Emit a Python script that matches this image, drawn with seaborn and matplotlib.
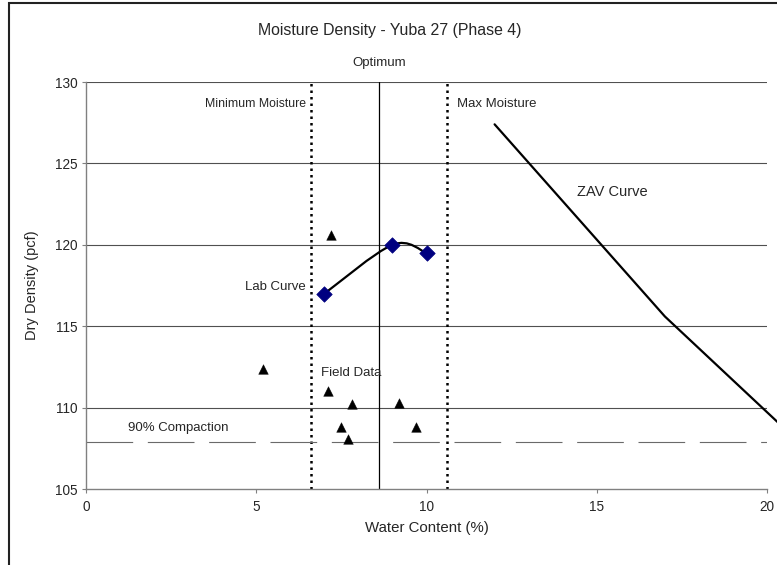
import matplotlib
matplotlib.use("Agg")
import matplotlib.pyplot as plt
import seaborn as sns
import pandas as pd
import numpy as np
from matplotlib.path import Path
from matplotlib.patches import PathPatch, Rectangle
from matplotlib import font_manager

# ---- data ----
lab_water = [7.0, 9.0, 10.0]
lab_density = [117.0, 120.0, 119.5]

field_water = [7.2, 5.2, 7.1, 7.8, 9.2, 7.5, 9.7, 7.7]
field_density = [120.6, 112.4, 111.0, 110.2, 110.3, 108.8, 108.8, 108.05]

zav_water = [12.0, 17.0, 22.0]
zav_density = [127.4, 115.6, 105.8]

optimum_water = 8.6
min_moisture = 6.6
max_moisture = 10.6
compaction_90 = 107.9

x_ticks = [0, 5, 10, 15, 20]
y_ticks = [105, 110, 115, 120, 125, 130]

title = "Moisture Density - Yuba 27 (Phase 4)"
x_label = "Water Content (%)"
y_label = "Dry Density (pcf)"

# ---- style ----
sns.set_style("white")
plt.rcParams['font.family'] = ['Liberation Sans', 'DejaVu Sans']

names = {f.name for f in font_manager.fontManager.ttflist}
narrow = 'Liberation Sans Narrow' if 'Liberation Sans Narrow' in names else None

W, H = 777, 565
fig = plt.figure(figsize=(W / 100, H / 100), dpi=100)
ax = fig.add_axes([86 / W, (H - 489) / H, (767 - 86) / W, (489 - 82) / H])

ax.set_xlim(0, 20)
ax.set_ylim(105, 130)
ax.set_xticks(x_ticks)
ax.set_yticks(y_ticks)
ax.tick_params(axis='both', direction='out', length=3, width=0.8, color='#808080',
               labelsize=9.8, pad=3, bottom=True, left=True)
ax.tick_params(axis='x', pad=5)
for s in ['top', 'right']:
    ax.spines[s].set_visible(False)
for s in ['left', 'bottom']:
    ax.spines[s].set_color('#808080')
    ax.spines[s].set_linewidth(1.0)

# horizontal gridlines
for yv in y_ticks[1:]:
    ax.axhline(yv, color='#505050', lw=0.8, zorder=1)

# vertical reference lines
ax.axvline(min_moisture, color='black', lw=1.8, ls=(0, (1, 1.6)), zorder=2)
ax.axvline(max_moisture, color='black', lw=1.8, ls=(0, (1, 1.6)), zorder=2)
ax.axvline(optimum_water, color='black', lw=0.9, zorder=2)

# 90% compaction
ax.axhline(compaction_90, color='#6a6a6a', lw=0.8, ls=(0, (42.0, 13.2)), zorder=2)

# ZAV curve
zav_df = pd.DataFrame({"w": zav_water, "d": zav_density})
sns.lineplot(data=zav_df, x="w", y="d", ax=ax, color='black', lw=1.6,
             sort=False, estimator=None, clip_on=False, zorder=3)

# Lab curve (smoothed Bezier through the lab points)
pts = np.column_stack([lab_water, lab_density])
n = len(pts)
verts = [tuple(pts[0])]
codes = [Path.MOVETO]
for i in range(n - 1):
    p0 = pts[max(i - 1, 0)]
    p1 = pts[i]
    p2 = pts[i + 1]
    p3 = pts[min(i + 2, n - 1)]
    c1 = p1 + (p2 - p0) / 6.0
    c2 = p2 - (p3 - p1) / 6.0
    verts += [tuple(c1), tuple(c2), tuple(p2)]
    codes += [Path.CURVE4] * 3
ax.add_patch(PathPatch(Path(verts, codes), fill=False, ec='black', lw=1.6, zorder=4))

lab_df = pd.DataFrame({"w": lab_water, "d": lab_density})
sns.scatterplot(data=lab_df, x="w", y="d", ax=ax, marker='D', s=62,
                color='#000080', edgecolor='#000080', linewidth=0.5, zorder=5)

field_df = pd.DataFrame({"w": field_water, "d": field_density})
sns.scatterplot(data=field_df, x="w", y="d", ax=ax, marker='^', s=48,
                color='black', edgecolor='black', linewidth=0.3, zorder=5)

ax.set_xlabel("")
ax.set_ylabel("")

# annotations
fs = 9.5
if narrow:
    ax.text(6.46, 128.65, "Minimum Moisture", ha='right', va='center', fontsize=10.2,
            family=[narrow, 'Liberation Sans'])
else:
    ax.text(6.46, 128.65, "Minimum Moisture", ha='right', va='center', fontsize=8.8)
ax.text(10.9, 128.65, "Max Moisture", ha='left', va='center', fontsize=fs)
ax.text(optimum_water, 131.17, "Optimum", ha='center', va='center', fontsize=fs, clip_on=False)
ax.text(14.43, 123.25, "ZAV Curve", ha='left', va='center', fontsize=10.5)
ax.text(6.46, 117.4, "Lab Curve", ha='right', va='center', fontsize=fs)
ax.text(6.9, 112.15, "Field Data", ha='left', va='center', fontsize=fs)
ax.text(1.22, 108.75, "90% Compaction", ha='left', va='center', fontsize=fs)

fig.text(389.5 / W, 1 - 30 / H, title, ha='center', va='center', fontsize=11.4)
fig.text(426.5 / W, 1 - 528 / H, x_label, ha='center', va='center', fontsize=10.8)
fig.text(32 / W, 1 - 285.5 / H, y_label, ha='center', va='center', fontsize=10.5, rotation=90)

# chart border (cropped on right/bottom)
fig.add_artist(Rectangle((8.5 / W, -0.05), 1.2, (H - 3) / H + 0.05, transform=fig.transFigure,
                         fill=False, ec='#222222', lw=1.5, clip_on=False))

fig.savefig("out.png", dpi=100)
